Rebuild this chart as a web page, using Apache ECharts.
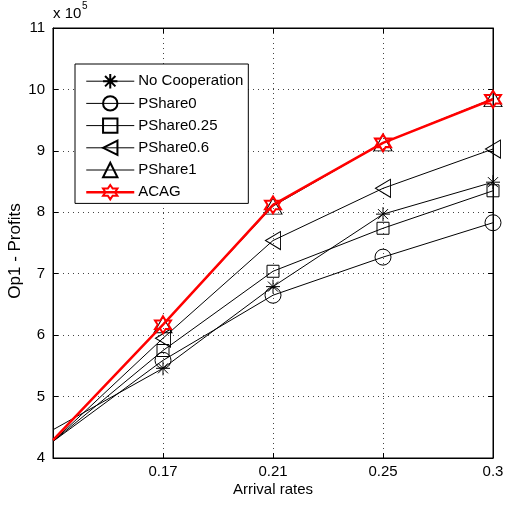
<!DOCTYPE html>
<html><head><meta charset="utf-8">
<script src="https://cdn.jsdelivr.net/npm/echarts@6/dist/echarts.min.js"></script>
<style>html,body{margin:0;padding:0;background:#fff}#c{width:506px;height:506px}</style>
</head><body><div id="c"></div>
<script>
// x categories (first point unlabeled in the reference)
var categories = ['', '0.17', '0.21', '0.25', '0.3'];
// values in units of 10^5
var noCooperation = [4.46, 5.46, 6.79, 7.97, 8.49];
var pshare0      = [4.27, 5.59, 6.65, 7.27, 7.83];
var pshare025    = [4.27, 5.75, 7.04, 7.74, 8.35];
var pshare06     = [4.27, 5.95, 7.54, 8.39, 9.03];
var pshare1      = [4.29, 6.17, 8.10, 9.13, 9.85];
var acag         = [4.29, 6.17, 8.12, 9.13, 9.84];
var seriesNames = ['No Cooperation', 'PShare0', 'PShare0.25', 'PShare0.6', 'PShare1', 'ACAG'];

var FONT = '"Liberation Sans", Arial, Helvetica, sans-serif';
var FS = 15;
var asterisk = 'path://M0,-1L0,1M-1,0L1,0M-0.72,-0.72L0.72,0.72M-0.72,0.72L0.72,-0.72';
var leftTri = 'path://M-1,0L1,-1L1,1Z';
var hexagram = 'path://M0,-1L0.289,-0.5L0.866,-0.5L0.577,0L0.866,0.5L0.289,0.5L0,1L-0.289,0.5L-0.866,0.5L-0.577,0L-0.866,-0.5L-0.289,-0.5Z';
var clear = 'rgba(0,0,0,0)';

// first point drawn without a marker (as in the reference)
function withMarkers(arr) {
  return arr.map(function (v, i) { return i === 0 ? { value: v, symbol: 'none' } : v; });
}

function blackSeries(name, data, symbol, size) {
  return {
    name: name, type: 'line', data: withMarkers(data), symbol: symbol, symbolSize: size,
    showAllSymbol: true,
    lineStyle: { color: '#000', width: 1 },
    itemStyle: { color: clear, borderColor: '#000', borderWidth: 1 },
    emphasis: { disabled: true }, animation: false, z: 3
  };
}

var chart = echarts.init(document.getElementById('c'), null, { renderer: 'canvas' });
chart.setOption({
  animation: false,
  textStyle: { fontFamily: FONT },
  grid: { left: 53, top: 28, right: 13, bottom: 48, outerBoundsMode: 'none', containLabel: false,
          show: true, borderColor: '#000', borderWidth: 1, backgroundColor: '#fff' },
  legend: {
    orient: 'vertical', left: 75, top: 64,
    padding: [9, 5, 3, 10],
    itemWidth: 48, itemHeight: 18, itemGap: 5.8,
    borderColor: '#000', borderWidth: 1, backgroundColor: '#fff',
    textStyle: { fontFamily: FONT, fontSize: FS, color: '#000', padding: [0, 0, 0, -1] },
    data: seriesNames.map(function (n, i) {
      return { name: n, lineStyle: { width: i === 5 ? 2.5 : 1 } };
    })
  },
  xAxis: [{
    type: 'category', data: categories, boundaryGap: false,
    name: 'Arrival rates', nameLocation: 'middle', nameGap: 24, nameMoveOverlap: false,
    nameTextStyle: { fontFamily: FONT, fontSize: FS, color: '#000' },
    axisLine: { lineStyle: { color: '#000', width: 1 } },
    axisTick: { inside: true, length: 5, lineStyle: { color: '#000' } },
    axisLabel: { fontFamily: FONT, fontSize: FS, color: '#000', margin: 6 },
    splitLine: { show: true, lineStyle: { color: '#444', type: [1, 4], width: 1 } }
  }, {
    type: 'category', data: categories, boundaryGap: false, position: 'top',
    axisLine: { lineStyle: { color: '#000' } },
    axisTick: { inside: true, length: 5, lineStyle: { color: '#000' } },
    axisLabel: { show: false }, splitLine: { show: false }
  }],
  yAxis: [{
    type: 'value', min: 4, max: 11, interval: 1,
    name: 'Op1 - Profits', nameLocation: 'middle', nameGap: 29, nameMoveOverlap: false,
    nameTextStyle: { fontFamily: FONT, fontSize: 17, color: '#000', padding: [0, 16, 0, 0] },
    axisLine: { show: true, lineStyle: { color: '#000', width: 1 } },
    axisTick: { show: true, inside: true, length: 5, lineStyle: { color: '#000' } },
    axisLabel: { fontFamily: FONT, fontSize: FS, color: '#000', margin: 8 },
    splitLine: { show: true, lineStyle: { color: '#444', type: [1, 4], width: 1 } }
  }, {
    type: 'value', min: 4, max: 11, interval: 1, position: 'right',
    axisLine: { show: true, lineStyle: { color: '#000' } },
    axisTick: { show: true, inside: true, length: 5, lineStyle: { color: '#000' } },
    axisLabel: { show: false }, splitLine: { show: false }
  }],
  graphic: [
    { type: 'text', left: 53, top: 6, style: { text: 'x 10', font: FS + 'px ' + FONT, fill: '#000' } },
    { type: 'text', left: 82, top: 1, style: { text: '5', font: '10px ' + FONT, fill: '#000' } }
  ],
  series: [
    blackSeries(seriesNames[0], noCooperation, asterisk, 14),
    blackSeries(seriesNames[1], pshare0, 'circle', 16),
    blackSeries(seriesNames[2], pshare025, 'rect', 12),
    blackSeries(seriesNames[3], pshare06, leftTri, [15, 18]),
    blackSeries(seriesNames[4], pshare1, 'triangle', [18, 16]),
    {
      name: seriesNames[5], type: 'line', data: withMarkers(acag), symbol: hexagram, symbolSize: [16, 17],
      showAllSymbol: true,
      lineStyle: { color: '#f00', width: 2.5 },
      itemStyle: { color: clear, borderColor: '#f00', borderWidth: 2 },
      emphasis: { disabled: true }, animation: false, z: 4
    }
  ]
});
</script></body></html>
